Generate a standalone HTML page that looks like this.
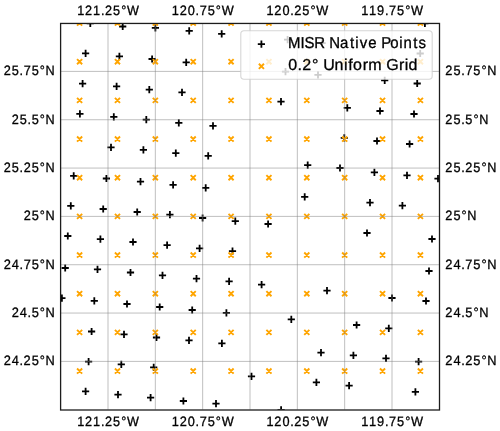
<!DOCTYPE html>
<html><head><meta charset="utf-8"><style>
html,body{margin:0;padding:0;background:#fff;}
svg{display:block;will-change:transform;}
text{font-family:"Liberation Sans",sans-serif;fill:#000;text-rendering:geometricPrecision;stroke:#000;stroke-width:0.3px;}
</style></head><body>
<svg width="500" height="431" viewBox="0 0 500 431">
<defs><clipPath id="ax"><rect x="60.67" y="23.07" width="378.66" height="386.66"/></clipPath></defs>
<rect width="500" height="431" fill="#fff"/>
<g clip-path="url(#ax)">
<path d="M86.70 23.40h7.20M90.30 19.80v7.20M119.10 26.50h7.20M122.70 22.90v7.20M151.80 27.80h7.20M155.40 24.20v7.20M185.60 30.80h7.20M189.20 27.20v7.20M218.10 33.90h7.20M221.70 30.30v7.20M284.00 39.70h7.20M287.60 36.10v7.20M318.50 43.20h7.20M322.10 39.60v7.20M421.30 23.40h7.20M424.90 19.80v7.20M82.00 53.40h7.20M85.60 49.80v7.20M115.80 56.40h7.20M119.40 52.80v7.20M148.50 59.00h7.20M152.10 55.40v7.20M182.60 62.30h7.20M186.20 58.70v7.20M281.90 71.60h7.20M285.50 68.00v7.20M314.40 74.80h7.20M318.00 71.20v7.20M416.60 53.50h7.20M420.20 49.90v7.20M381.10 80.30h7.20M384.70 76.70v7.20M413.60 83.50h7.20M417.20 79.90v7.20M79.00 83.70h7.20M82.60 80.10v7.20M113.00 86.40h7.20M116.60 82.80v7.20M145.70 89.60h7.20M149.30 86.00v7.20M178.40 92.40h7.20M182.00 88.80v7.20M277.40 101.70h7.20M281.00 98.10v7.20M76.30 113.90h7.20M79.90 110.30v7.20M110.20 116.90h7.20M113.80 113.30v7.20M142.70 119.70h7.20M146.30 116.10v7.20M175.20 122.80h7.20M178.80 119.20v7.20M209.40 125.80h7.20M213.00 122.20v7.20M343.70 107.80h7.20M347.30 104.20v7.20M376.40 111.00h7.20M380.00 107.40v7.20M410.40 114.00h7.20M414.00 110.40v7.20M107.40 147.30h7.20M111.00 143.70v7.20M139.80 149.90h7.20M143.40 146.30v7.20M172.20 153.10h7.20M175.80 149.50v7.20M204.60 155.90h7.20M208.20 152.30v7.20M340.70 137.80h7.20M344.30 134.20v7.20M373.40 141.00h7.20M377.00 137.40v7.20M406.00 144.00h7.20M409.60 140.40v7.20M70.10 175.80h7.20M73.70 172.20v7.20M102.80 178.50h7.20M106.40 174.90v7.20M136.90 181.70h7.20M140.50 178.10v7.20M169.50 184.90h7.20M173.10 181.30v7.20M202.10 187.80h7.20M205.70 184.20v7.20M304.10 165.20h7.20M307.70 161.60v7.20M336.40 168.00h7.20M340.00 164.40v7.20M370.80 172.40h7.20M374.40 168.80v7.20M403.40 175.40h7.20M407.00 171.80v7.20M434.40 178.60h7.20M438.00 175.00v7.20M67.20 205.80h7.20M70.80 202.20v7.20M99.60 209.00h7.20M103.20 205.40v7.20M133.60 212.00h7.20M137.20 208.40v7.20M166.30 214.70h7.20M169.90 211.10v7.20M199.00 218.00h7.20M202.60 214.40v7.20M231.70 221.10h7.20M235.30 217.50v7.20M264.50 224.00h7.20M268.10 220.40v7.20M301.10 196.90h7.20M304.70 193.30v7.20M366.40 202.60h7.20M370.00 199.00v7.20M398.80 205.60h7.20M402.40 202.00v7.20M64.20 236.00h7.20M67.80 232.40v7.20M96.80 239.20h7.20M100.40 235.60v7.20M129.40 242.00h7.20M133.00 238.40v7.20M163.50 245.20h7.20M167.10 241.60v7.20M196.00 248.40h7.20M199.60 244.80v7.20M228.90 251.10h7.20M232.50 247.50v7.20M363.40 233.00h7.20M367.00 229.40v7.20M428.40 239.00h7.20M432.00 235.40v7.20M61.60 268.00h7.20M65.20 264.40v7.20M93.90 269.30h7.20M97.50 265.70v7.20M126.90 272.50h7.20M130.50 268.90v7.20M158.90 275.30h7.20M162.50 271.70v7.20M192.90 278.60h7.20M196.50 275.00v7.20M225.50 281.40h7.20M229.10 277.80v7.20M258.00 284.60h7.20M261.60 281.00v7.20M323.40 290.70h7.20M327.00 287.10v7.20M425.40 271.00h7.20M429.00 267.40v7.20M58.30 298.10h7.20M61.90 294.50v7.20M90.70 300.90h7.20M94.30 297.30v7.20M123.40 304.00h7.20M127.00 300.40v7.20M156.10 307.00h7.20M159.70 303.40v7.20M188.60 310.00h7.20M192.20 306.40v7.20M222.80 312.80h7.20M226.40 309.20v7.20M388.40 298.00h7.20M392.00 294.40v7.20M422.40 301.00h7.20M426.00 297.40v7.20M287.70 319.30h7.20M291.30 315.70v7.20M88.00 331.50h7.20M91.60 327.90v7.20M120.40 334.30h7.20M124.00 330.70v7.20M152.90 337.50h7.20M156.50 333.90v7.20M185.40 340.30h7.20M189.00 336.70v7.20M218.30 343.40h7.20M221.90 339.80v7.20M353.00 325.00h7.20M356.60 321.40v7.20M385.20 328.40h7.20M388.80 324.80v7.20M317.40 352.70h7.20M321.00 349.10v7.20M85.00 361.60h7.20M88.60 358.00v7.20M117.70 364.40h7.20M121.30 360.80v7.20M150.10 367.40h7.20M153.70 363.80v7.20M349.80 355.40h7.20M353.40 351.80v7.20M382.40 358.40h7.20M386.00 354.80v7.20M415.00 361.60h7.20M418.60 358.00v7.20M247.90 376.40h7.20M251.50 372.80v7.20M312.80 382.30h7.20M316.40 378.70v7.20M345.50 385.60h7.20M349.10 382.00v7.20M82.00 391.40h7.20M85.60 387.80v7.20M114.40 394.60h7.20M118.00 391.00v7.20M147.00 397.60h7.20M150.60 394.00v7.20M179.80 401.00h7.20M183.40 397.40v7.20M212.40 403.60h7.20M216.00 400.00v7.20M411.80 391.90h7.20M415.40 388.30v7.20M277.50 409.80h7.20M281.10 406.20v7.20" stroke="#000" stroke-width="1.8" fill="none"/>
<path d="M77.05 20.52l5.10 5.10M77.05 25.62l5.10 -5.10M114.92 20.52l5.10 5.10M114.92 25.62l5.10 -5.10M152.78 20.52l5.10 5.10M152.78 25.62l5.10 -5.10M190.65 20.52l5.10 5.10M190.65 25.62l5.10 -5.10M228.52 20.52l5.10 5.10M228.52 25.62l5.10 -5.10M266.38 20.52l5.10 5.10M266.38 25.62l5.10 -5.10M304.25 20.52l5.10 5.10M304.25 25.62l5.10 -5.10M342.12 20.52l5.10 5.10M342.12 25.62l5.10 -5.10M379.98 20.52l5.10 5.10M379.98 25.62l5.10 -5.10M417.85 20.52l5.10 5.10M417.85 25.62l5.10 -5.10M77.05 59.19l5.10 5.10M77.05 64.29l5.10 -5.10M114.92 59.19l5.10 5.10M114.92 64.29l5.10 -5.10M152.78 59.19l5.10 5.10M152.78 64.29l5.10 -5.10M190.65 59.19l5.10 5.10M190.65 64.29l5.10 -5.10M228.52 59.19l5.10 5.10M228.52 64.29l5.10 -5.10M266.38 59.19l5.10 5.10M266.38 64.29l5.10 -5.10M304.25 59.19l5.10 5.10M304.25 64.29l5.10 -5.10M342.12 59.19l5.10 5.10M342.12 64.29l5.10 -5.10M379.98 59.19l5.10 5.10M379.98 64.29l5.10 -5.10M417.85 59.19l5.10 5.10M417.85 64.29l5.10 -5.10M77.05 97.85l5.10 5.10M77.05 102.95l5.10 -5.10M114.92 97.85l5.10 5.10M114.92 102.95l5.10 -5.10M152.78 97.85l5.10 5.10M152.78 102.95l5.10 -5.10M190.65 97.85l5.10 5.10M190.65 102.95l5.10 -5.10M228.52 97.85l5.10 5.10M228.52 102.95l5.10 -5.10M266.38 97.85l5.10 5.10M266.38 102.95l5.10 -5.10M304.25 97.85l5.10 5.10M304.25 102.95l5.10 -5.10M342.12 97.85l5.10 5.10M342.12 102.95l5.10 -5.10M379.98 97.85l5.10 5.10M379.98 102.95l5.10 -5.10M417.85 97.85l5.10 5.10M417.85 102.95l5.10 -5.10M77.05 136.52l5.10 5.10M77.05 141.62l5.10 -5.10M114.92 136.52l5.10 5.10M114.92 141.62l5.10 -5.10M152.78 136.52l5.10 5.10M152.78 141.62l5.10 -5.10M190.65 136.52l5.10 5.10M190.65 141.62l5.10 -5.10M228.52 136.52l5.10 5.10M228.52 141.62l5.10 -5.10M266.38 136.52l5.10 5.10M266.38 141.62l5.10 -5.10M304.25 136.52l5.10 5.10M304.25 141.62l5.10 -5.10M342.12 136.52l5.10 5.10M342.12 141.62l5.10 -5.10M379.98 136.52l5.10 5.10M379.98 141.62l5.10 -5.10M417.85 136.52l5.10 5.10M417.85 141.62l5.10 -5.10M77.05 175.18l5.10 5.10M77.05 180.28l5.10 -5.10M114.92 175.18l5.10 5.10M114.92 180.28l5.10 -5.10M152.78 175.18l5.10 5.10M152.78 180.28l5.10 -5.10M190.65 175.18l5.10 5.10M190.65 180.28l5.10 -5.10M228.52 175.18l5.10 5.10M228.52 180.28l5.10 -5.10M266.38 175.18l5.10 5.10M266.38 180.28l5.10 -5.10M304.25 175.18l5.10 5.10M304.25 180.28l5.10 -5.10M342.12 175.18l5.10 5.10M342.12 180.28l5.10 -5.10M379.98 175.18l5.10 5.10M379.98 180.28l5.10 -5.10M417.85 175.18l5.10 5.10M417.85 180.28l5.10 -5.10M77.05 213.85l5.10 5.10M77.05 218.95l5.10 -5.10M114.92 213.85l5.10 5.10M114.92 218.95l5.10 -5.10M152.78 213.85l5.10 5.10M152.78 218.95l5.10 -5.10M190.65 213.85l5.10 5.10M190.65 218.95l5.10 -5.10M228.52 213.85l5.10 5.10M228.52 218.95l5.10 -5.10M266.38 213.85l5.10 5.10M266.38 218.95l5.10 -5.10M304.25 213.85l5.10 5.10M304.25 218.95l5.10 -5.10M342.12 213.85l5.10 5.10M342.12 218.95l5.10 -5.10M379.98 213.85l5.10 5.10M379.98 218.95l5.10 -5.10M417.85 213.85l5.10 5.10M417.85 218.95l5.10 -5.10M77.05 252.52l5.10 5.10M77.05 257.62l5.10 -5.10M114.92 252.52l5.10 5.10M114.92 257.62l5.10 -5.10M152.78 252.52l5.10 5.10M152.78 257.62l5.10 -5.10M190.65 252.52l5.10 5.10M190.65 257.62l5.10 -5.10M228.52 252.52l5.10 5.10M228.52 257.62l5.10 -5.10M266.38 252.52l5.10 5.10M266.38 257.62l5.10 -5.10M304.25 252.52l5.10 5.10M304.25 257.62l5.10 -5.10M342.12 252.52l5.10 5.10M342.12 257.62l5.10 -5.10M379.98 252.52l5.10 5.10M379.98 257.62l5.10 -5.10M417.85 252.52l5.10 5.10M417.85 257.62l5.10 -5.10M77.05 291.18l5.10 5.10M77.05 296.28l5.10 -5.10M114.92 291.18l5.10 5.10M114.92 296.28l5.10 -5.10M152.78 291.18l5.10 5.10M152.78 296.28l5.10 -5.10M190.65 291.18l5.10 5.10M190.65 296.28l5.10 -5.10M228.52 291.18l5.10 5.10M228.52 296.28l5.10 -5.10M266.38 291.18l5.10 5.10M266.38 296.28l5.10 -5.10M304.25 291.18l5.10 5.10M304.25 296.28l5.10 -5.10M342.12 291.18l5.10 5.10M342.12 296.28l5.10 -5.10M379.98 291.18l5.10 5.10M379.98 296.28l5.10 -5.10M417.85 291.18l5.10 5.10M417.85 296.28l5.10 -5.10M77.05 329.85l5.10 5.10M77.05 334.95l5.10 -5.10M114.92 329.85l5.10 5.10M114.92 334.95l5.10 -5.10M152.78 329.85l5.10 5.10M152.78 334.95l5.10 -5.10M190.65 329.85l5.10 5.10M190.65 334.95l5.10 -5.10M228.52 329.85l5.10 5.10M228.52 334.95l5.10 -5.10M266.38 329.85l5.10 5.10M266.38 334.95l5.10 -5.10M304.25 329.85l5.10 5.10M304.25 334.95l5.10 -5.10M342.12 329.85l5.10 5.10M342.12 334.95l5.10 -5.10M379.98 329.85l5.10 5.10M379.98 334.95l5.10 -5.10M417.85 329.85l5.10 5.10M417.85 334.95l5.10 -5.10M77.05 368.51l5.10 5.10M77.05 373.61l5.10 -5.10M114.92 368.51l5.10 5.10M114.92 373.61l5.10 -5.10M152.78 368.51l5.10 5.10M152.78 373.61l5.10 -5.10M190.65 368.51l5.10 5.10M190.65 373.61l5.10 -5.10M228.52 368.51l5.10 5.10M228.52 373.61l5.10 -5.10M266.38 368.51l5.10 5.10M266.38 373.61l5.10 -5.10M304.25 368.51l5.10 5.10M304.25 373.61l5.10 -5.10M342.12 368.51l5.10 5.10M342.12 373.61l5.10 -5.10M379.98 368.51l5.10 5.10M379.98 373.61l5.10 -5.10M417.85 368.51l5.10 5.10M417.85 373.61l5.10 -5.10" stroke="#ffa500" stroke-width="1.9" fill="none"/>
<path d="M108.00 23.07V409.73M155.33 23.07V409.73M202.67 23.07V409.73M250.00 23.07V409.73M297.33 23.07V409.73M344.67 23.07V409.73M392.00 23.07V409.73M60.67 71.40H439.33M60.67 119.74H439.33M60.67 168.07H439.33M60.67 216.40H439.33M60.67 264.73H439.33M60.67 313.06H439.33M60.67 361.40H439.33" stroke="#808080" stroke-opacity="0.5" stroke-width="1" fill="none"/>
</g>
<rect x="60.6" y="23.45" width="378.9" height="386.55" fill="none" stroke="#1c1c1c" stroke-width="1.3"/>
<rect x="240.8" y="30.75" width="191.40" height="48.55" rx="3.2" ry="3.2" fill="#fff" fill-opacity="0.8" stroke="#ccc" stroke-opacity="0.8" stroke-width="1.1"/>
<path d="M257.80 44.20h7.20M261.40 40.60v7.20" stroke="#000" stroke-width="1.8" fill="none"/>
<path d="M258.85 63.75l5.10 5.10M258.85 68.85l5.10 -5.10" stroke="#ffa500" stroke-width="1.9" fill="none"/>
<text transform="translate(78.20 14.50) scale(0.9300 1)" x="-1.05 7.39 16.05 24.42 28.77 37.44 46.20 52.50" font-size="13.6">121.25°W</text>
<text transform="translate(78.20 425.60) scale(0.9300 1)" x="-1.05 7.39 16.05 24.42 28.77 37.44 46.20 52.50" font-size="13.6">121.25°W</text>
<text transform="translate(172.87 14.50) scale(0.9374 1)" x="-1.07 7.30 15.96 24.21 28.66 37.11 45.81 52.03" font-size="13.6">120.75°W</text>
<text transform="translate(172.87 425.60) scale(0.9374 1)" x="-1.07 7.30 15.96 24.21 28.66 37.11 45.81 52.03" font-size="13.6">120.75°W</text>
<text transform="translate(267.53 14.50) scale(0.9357 1)" x="-1.07 7.32 16.00 24.26 28.57 37.19 45.90 52.14" font-size="13.6">120.25°W</text>
<text transform="translate(267.53 425.60) scale(0.9357 1)" x="-1.07 7.32 16.00 24.26 28.57 37.19 45.90 52.14" font-size="13.6">120.25°W</text>
<text transform="translate(362.20 14.50) scale(0.9404 1)" x="-1.08 7.37 15.85 24.13 28.55 36.98 45.66 51.85" font-size="13.6">119.75°W</text>
<text transform="translate(362.20 425.60) scale(0.9404 1)" x="-1.08 7.37 15.85 24.13 28.55 36.98 45.66 51.85" font-size="13.6">119.75°W</text>
<text transform="translate(4.41 75.30) scale(0.9345 1)" x="-0.69 7.95 16.27 20.74 29.22 37.94 44.09" font-size="13.6">25.75°N</text>
<text transform="translate(446.00 75.30) scale(0.9345 1)" x="-0.69 7.95 16.27 20.74 29.22 37.94 44.09" font-size="13.6">25.75°N</text>
<text transform="translate(12.36 123.64) scale(0.9320 1)" x="-0.68 7.98 16.32 20.78 29.52 35.69" font-size="13.6">25.5°N</text>
<text transform="translate(446.00 123.64) scale(0.9320 1)" x="-0.68 7.98 16.32 20.78 29.52 35.69" font-size="13.6">25.5°N</text>
<text transform="translate(4.41 171.97) scale(0.9323 1)" x="-0.68 7.98 16.31 20.64 29.30 38.04 44.21" font-size="13.6">25.25°N</text>
<text transform="translate(446.00 171.97) scale(0.9323 1)" x="-0.68 7.98 16.31 20.64 29.30 38.04 44.21" font-size="13.6">25.25°N</text>
<text transform="translate(24.29 220.30) scale(0.9333 1)" x="-0.68 7.96 16.69 22.85" font-size="13.6">25°N</text>
<text transform="translate(446.00 220.30) scale(0.9333 1)" x="-0.68 7.96 16.69 22.85" font-size="13.6">25°N</text>
<text transform="translate(4.41 268.63) scale(0.9441 1)" x="-0.72 7.88 16.09 20.49 28.89 37.53 43.59" font-size="13.6">24.75°N</text>
<text transform="translate(446.00 268.63) scale(0.9441 1)" x="-0.72 7.88 16.09 20.49 28.89 37.53 43.59" font-size="13.6">24.75°N</text>
<text transform="translate(12.36 316.96) scale(0.9434 1)" x="-0.72 7.89 16.10 20.48 29.13 35.20" font-size="13.6">24.5°N</text>
<text transform="translate(446.00 316.96) scale(0.9434 1)" x="-0.72 7.89 16.10 20.48 29.13 35.20" font-size="13.6">24.5°N</text>
<text transform="translate(4.41 365.30) scale(0.9418 1)" x="-0.71 7.91 16.13 20.40 28.96 37.62 43.71" font-size="13.6">24.25°N</text>
<text transform="translate(446.00 365.30) scale(0.9418 1)" x="-0.71 7.91 16.13 20.40 28.96 37.62 43.71" font-size="13.6">24.25°N</text>
<text transform="translate(289.20 47.80) scale(0.9468 1)" x="-1.39 12.02 16.27 26.36 37.22 42.29 53.63 64.20 69.90 74.47 83.46 92.62 97.26 106.78 116.36 120.85 130.96 136.47" font-size="15.8">MISR Native Points</text>
<text transform="translate(289.00 69.70) scale(1.0133 1)" x="-0.73 8.41 12.97 22.67 29.47 33.72 45.00 54.25 58.57 63.20 72.68 78.32 91.95 96.08 108.49 114.12 118.03" font-size="15.8">0.2° Uniform Grid</text>
</svg>
</body></html>
